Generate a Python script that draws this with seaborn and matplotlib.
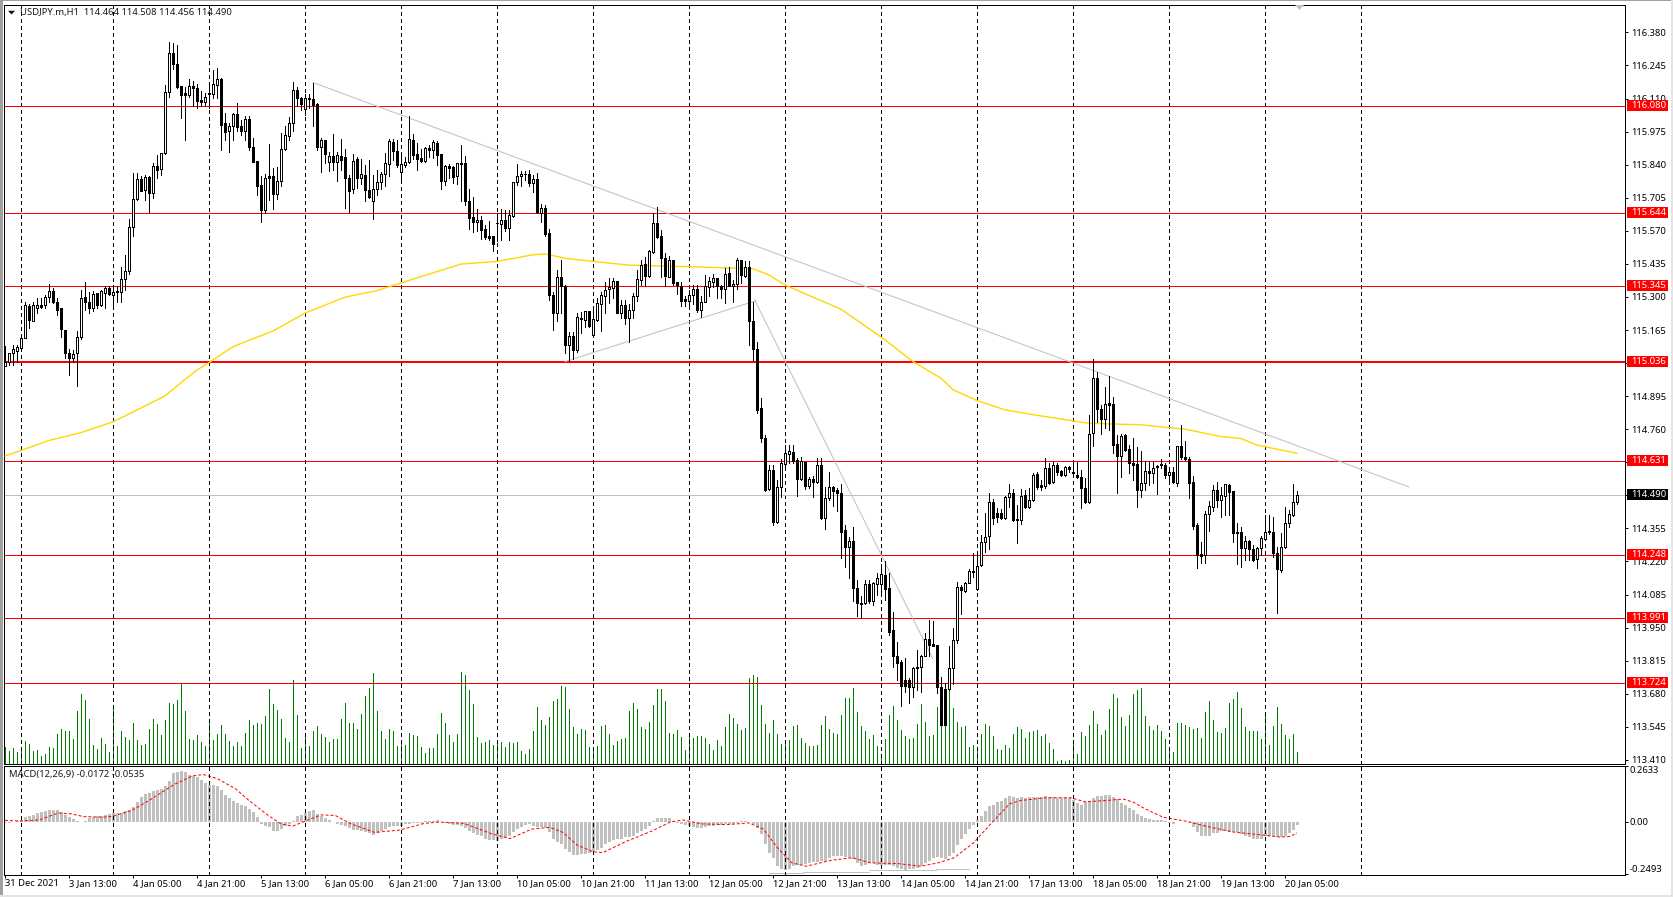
import numpy as np
import matplotlib
matplotlib.use('Agg')
import matplotlib.pyplot as plt
from matplotlib.patches import Rectangle, Polygon
import seaborn as sns

# USDJPY.m H1 candles
opens = [115.016,115.036,115.070,115.081,115.091,115.131,115.263,115.200,115.254,115.268,
115.266,115.299,115.325,115.281,115.254,115.165,115.073,115.050,115.070,115.138,
115.298,115.281,115.254,115.315,115.268,115.318,115.336,115.306,115.321,115.322,
115.372,115.404,115.585,115.699,115.781,115.737,115.789,115.726,115.835,115.822,
115.887,116.136,116.295,116.250,116.162,116.132,116.125,116.162,116.152,116.105,
116.094,116.128,116.128,116.166,116.189,116.009,115.979,115.996,116.048,115.996,
115.979,116.026,115.911,115.856,115.758,115.653,115.792,115.794,115.721,115.775,
115.903,115.959,116.012,116.146,116.111,116.067,116.110,116.107,116.087,115.914,
115.941,115.849,115.876,115.853,115.876,115.871,115.785,115.740,115.862,115.785,
115.798,115.737,115.690,115.740,115.771,115.803,115.843,115.932,115.894,115.812,
115.839,115.853,115.941,115.883,115.866,115.857,115.907,115.901,115.928,115.884,
115.775,115.835,115.830,115.792,115.846,115.846,115.692,115.626,115.604,115.615,
115.578,115.549,115.549,115.600,115.596,115.615,115.583,115.631,115.768,115.792,
115.800,115.803,115.767,115.782,115.642,115.662,115.560,115.308,115.234,115.381,
115.345,115.102,115.141,115.084,115.213,115.206,115.242,115.145,115.206,115.270,
115.302,115.332,115.338,115.366,115.236,115.266,115.213,115.247,115.304,115.370,
115.434,115.386,115.485,115.601,115.549,115.458,115.383,115.451,115.360,115.343,
115.292,115.283,115.306,115.332,115.247,115.281,115.340,115.363,115.376,115.343,
115.332,115.397,115.345,115.353,115.449,115.386,115.421,115.202,115.087,114.846,
114.723,114.515,114.594,114.383,114.523,114.618,114.659,114.666,114.635,114.556,
114.628,114.529,114.556,114.546,114.614,114.399,114.478,114.523,114.512,114.499,
114.349,114.277,114.304,114.111,114.051,114.050,114.127,114.060,114.128,114.127,
114.165,114.111,113.941,113.832,113.811,113.734,113.734,113.709,113.783,113.788,
113.834,113.902,113.883,113.879,113.706,113.698,113.698,113.784,113.900,114.115,
114.101,114.134,114.181,114.107,114.206,114.299,114.322,114.462,114.417,114.417,
114.399,114.482,114.499,114.394,114.390,114.492,114.444,114.469,114.576,114.531,
114.529,114.601,114.546,114.614,114.590,114.573,114.607,114.587,114.573,114.563,
114.519,114.461,114.744,114.968,114.843,114.802,114.866,114.862,114.700,114.651,
114.737,114.678,114.624,114.618,114.512,114.539,114.590,114.580,114.605,114.612,
114.614,114.575,114.584,114.542,114.692,114.646,114.640,114.543,114.369,114.250,
114.247,114.414,114.444,114.512,114.471,114.489,114.533,114.508,114.342,114.339,
114.274,114.304,114.270,114.229,114.274,114.312,114.346,114.339,114.256,114.185,
114.278,114.379,114.410,114.464]

highs = [115.098,115.070,115.104,115.104,115.145,115.281,115.272,115.281,115.295,115.295,
115.308,115.353,115.336,115.295,115.254,115.165,115.087,115.084,115.159,115.329,
115.360,115.322,115.326,115.315,115.329,115.343,115.343,115.343,115.343,115.424,
115.472,115.617,115.805,115.805,115.792,115.798,115.792,115.846,115.880,115.887,
116.166,116.340,116.336,116.329,116.162,116.156,116.189,116.180,116.170,116.139,
116.132,116.166,116.227,116.234,116.193,116.050,116.009,116.050,116.091,116.023,
116.037,116.037,115.948,115.856,115.792,115.803,115.925,115.826,115.832,115.969,
115.996,116.034,116.177,116.156,116.118,116.129,116.129,116.175,116.091,115.948,
115.941,115.890,115.964,115.890,115.944,115.903,115.798,115.884,115.871,115.862,
115.839,115.860,115.798,115.819,115.812,115.887,115.944,115.944,115.939,115.880,
115.873,116.037,115.966,115.928,115.903,115.914,115.921,115.941,115.935,115.884,
115.839,115.843,115.835,115.846,115.921,115.876,115.740,115.707,115.658,115.631,
115.594,115.611,115.549,115.642,115.658,115.653,115.653,115.768,115.843,115.815,
115.816,115.819,115.798,115.805,115.679,115.676,115.577,115.322,115.411,115.451,
115.349,115.155,115.155,115.234,115.240,115.244,115.242,115.261,115.295,115.322,
115.359,115.378,115.378,115.366,115.288,115.288,115.272,115.315,115.411,115.451,
115.465,115.492,115.642,115.669,115.574,115.481,115.468,115.451,115.363,115.363,
115.302,115.329,115.349,115.349,115.302,115.390,115.381,115.393,115.376,115.349,
115.417,115.424,115.370,115.458,115.451,115.445,115.445,115.281,115.118,114.887,
114.737,114.614,114.614,114.553,114.637,114.696,114.696,114.696,114.642,114.648,
114.628,114.564,114.567,114.642,114.642,114.526,114.587,114.529,114.519,114.537,
114.369,114.319,114.360,114.145,114.080,114.145,114.145,114.138,114.172,114.210,
114.220,114.172,114.015,113.893,113.818,113.825,113.743,113.791,113.859,113.838,
113.927,113.981,113.975,113.879,113.750,113.723,113.873,113.947,114.135,114.124,
114.138,114.188,114.254,114.247,114.328,114.417,114.501,114.475,114.437,114.433,
114.488,114.537,114.515,114.451,114.515,114.512,114.519,114.583,114.587,114.553,
114.642,114.621,114.628,114.624,114.594,114.610,114.610,114.624,114.628,114.594,
114.560,114.818,115.046,114.995,114.859,114.934,114.978,114.893,114.737,114.740,
114.740,114.696,114.723,114.689,114.669,114.632,114.628,114.628,114.614,114.637,
114.621,114.607,114.605,114.692,114.778,114.710,114.648,114.569,114.376,114.301,
114.424,114.465,114.533,114.546,114.526,114.537,114.535,114.508,114.379,114.360,
114.322,114.308,114.288,114.281,114.322,114.410,114.410,114.403,114.281,114.335,
114.441,114.431,114.537,114.508]

lows = [115.016,115.023,115.023,115.036,115.084,115.131,115.172,115.200,115.236,115.254,
115.254,115.281,115.277,115.227,115.138,115.050,114.982,115.036,114.938,115.127,
115.247,115.234,115.244,115.254,115.261,115.254,115.308,115.261,115.281,115.281,
115.329,115.394,115.547,115.696,115.734,115.694,115.645,115.703,115.785,115.798,
115.884,116.118,116.230,116.152,116.030,115.941,116.118,116.080,116.071,116.080,
116.080,116.071,116.111,116.111,115.898,115.941,115.890,115.941,115.979,115.962,
115.941,115.901,115.850,115.717,115.608,115.642,115.696,115.658,115.699,115.754,
115.898,115.939,115.979,116.080,116.064,116.043,116.071,115.996,115.898,115.812,
115.846,115.816,115.819,115.775,115.819,115.662,115.645,115.724,115.744,115.762,
115.690,115.703,115.617,115.717,115.740,115.754,115.792,115.860,115.832,115.778,
115.832,115.846,115.862,115.819,115.849,115.849,115.873,115.866,115.839,115.741,
115.758,115.785,115.764,115.762,115.690,115.676,115.578,115.564,115.571,115.537,
115.537,115.533,115.489,115.530,115.533,115.571,115.533,115.628,115.758,115.755,
115.778,115.751,115.730,115.642,115.608,115.549,115.288,115.166,115.200,115.234,
115.073,115.039,115.046,115.077,115.152,115.179,115.179,115.138,115.200,115.161,
115.236,115.274,115.295,115.234,115.213,115.190,115.114,115.213,115.285,115.349,
115.345,115.383,115.481,115.540,115.381,115.345,115.381,115.349,115.313,115.264,
115.264,115.261,115.272,115.240,115.220,115.281,115.302,115.340,115.295,115.295,
115.277,115.343,115.281,115.332,115.356,115.383,115.104,115.043,114.825,114.706,
114.509,114.512,114.369,114.376,114.485,114.594,114.621,114.624,114.488,114.553,
114.515,114.519,114.485,114.539,114.392,114.352,114.471,114.447,114.424,114.233,
114.199,114.152,114.060,113.998,113.991,114.047,114.050,114.043,114.084,114.084,
114.063,113.920,113.791,113.736,113.628,113.689,113.641,113.668,113.695,113.689,
113.832,113.832,113.873,113.682,113.553,113.553,113.695,113.720,113.889,114.006,
114.097,114.131,114.158,114.104,114.203,114.260,114.270,114.373,114.383,114.392,
114.392,114.444,114.387,114.297,114.373,114.437,114.437,114.465,114.515,114.512,
114.519,114.537,114.539,114.573,114.567,114.569,114.587,114.573,114.560,114.440,
114.458,114.458,114.692,114.791,114.741,114.764,114.757,114.662,114.501,114.564,
114.673,114.583,114.553,114.444,114.485,114.512,114.533,114.542,114.496,114.601,
114.560,114.546,114.542,114.529,114.637,114.635,114.481,114.353,114.195,114.215,
114.215,114.346,114.424,114.444,114.403,114.410,114.410,114.301,114.210,114.199,
114.226,114.226,114.220,114.195,114.247,114.308,114.333,114.240,114.011,114.175,
114.274,114.362,114.407,114.456]

closes = [115.036,115.070,115.087,115.095,115.131,115.268,115.204,115.268,115.268,115.258,
115.299,115.325,115.278,115.247,115.168,115.070,115.050,115.066,115.138,115.295,
115.281,115.254,115.313,115.268,115.325,115.336,115.313,115.322,115.323,115.372,
115.406,115.587,115.699,115.781,115.734,115.789,115.726,115.835,115.819,115.887,
116.136,116.295,116.250,116.156,116.125,116.125,116.162,116.152,116.102,116.094,
116.118,116.131,116.170,116.189,116.003,115.975,115.999,116.048,115.993,115.979,
116.026,115.911,115.853,115.754,115.653,115.785,115.785,115.720,115.775,115.903,
115.962,116.012,116.143,116.111,116.086,116.111,116.113,116.084,115.914,115.941,
115.884,115.876,115.853,115.880,115.860,115.785,115.734,115.857,115.785,115.803,
115.737,115.707,115.740,115.771,115.803,115.846,115.937,115.894,115.837,115.843,
115.853,115.944,115.880,115.862,115.856,115.907,115.898,115.932,115.880,115.775,
115.835,115.827,115.789,115.846,115.843,115.690,115.624,115.604,115.615,115.574,
115.544,115.541,115.517,115.602,115.615,115.583,115.635,115.768,115.794,115.803,
115.803,115.767,115.782,115.645,115.662,115.558,115.308,115.236,115.381,115.345,
115.102,115.141,115.084,115.217,115.209,115.242,115.182,115.209,115.274,115.306,
115.328,115.341,115.366,115.236,115.266,115.213,115.247,115.304,115.372,115.431,
115.386,115.488,115.601,115.544,115.458,115.386,115.449,115.356,115.347,115.285,
115.285,115.306,115.332,115.247,115.281,115.343,115.366,115.376,115.343,115.332,
115.393,115.345,115.353,115.449,115.390,115.424,115.200,115.087,114.839,114.723,
114.512,114.594,114.383,114.523,114.621,114.662,114.670,114.632,114.556,114.632,
114.529,114.556,114.546,114.614,114.396,114.478,114.526,114.509,114.499,114.342,
114.277,114.304,114.111,114.050,114.048,114.127,114.060,114.131,114.152,114.168,
114.108,113.930,113.832,113.807,113.713,113.713,113.709,113.784,113.788,113.834,
113.902,113.879,113.875,113.706,113.553,113.553,113.784,113.900,114.115,114.104,
114.131,114.181,114.175,114.203,114.299,114.319,114.462,114.399,114.401,114.396,
114.482,114.499,114.390,114.388,114.489,114.444,114.471,114.573,114.526,114.526,
114.601,114.542,114.614,114.584,114.573,114.607,114.599,114.580,114.563,114.519,
114.461,114.740,114.968,114.843,114.802,114.862,114.859,114.696,114.651,114.733,
114.676,114.621,114.614,114.512,114.539,114.590,114.580,114.601,114.610,114.617,
114.575,114.584,114.546,114.692,114.646,114.640,114.542,114.365,114.247,114.244,
114.414,114.447,114.512,114.471,114.492,114.535,114.505,114.338,114.335,114.274,
114.304,114.270,114.226,114.274,114.315,114.342,114.339,114.256,114.188,114.278,
114.379,114.413,114.462,114.490]

# tick volume, in the chart's unlabeled scale
volumes = [52,38,48,37,52,70,60,40,42,25,30,52,49,90,106,100,100,76,160,211,
193,136,58,44,79,61,37,168,55,100,82,73,124,73,58,61,106,136,121,88,
133,184,181,193,244,160,76,73,88,67,55,136,73,91,118,91,70,55,67,55,
94,133,118,124,121,145,226,181,163,136,79,67,253,148,49,91,55,100,115,91,
82,67,76,76,136,184,124,124,106,151,205,229,274,160,100,76,106,100,55,70,
58,94,88,85,52,34,49,49,91,154,124,88,67,91,277,268,223,181,82,64,
67,73,58,64,67,52,67,64,67,40,31,46,100,172,133,118,142,190,196,235,
232,166,112,91,106,103,52,50,55,115,118,91,58,70,76,78,160,184,166,112,
106,127,178,226,226,190,94,91,103,82,43,82,79,85,85,79,61,43,73,55,
112,151,139,121,103,109,259,268,262,178,121,94,133,91,61,70,73,115,118,79,
64,55,55,58,118,145,106,94,91,148,199,199,229,157,115,100,76,88,55,28,
76,148,175,133,103,85,76,79,121,181,127,85,88,172,229,221,292,169,127,112,
115,52,58,50,91,121,115,85,46,43,58,49,91,112,106,79,97,100,103,85,
91,64,46,10,13,10,13,64,31,97,85,118,160,121,88,103,166,211,199,142,
115,148,211,223,229,145,115,103,118,100,76,45,37,124,124,118,112,106,109,79,
157,190,133,97,94,109,184,196,217,169,112,100,100,100,76,154,58,115,172,121,
88,76,91,37]

macd_hist = [-0.008,-0.005,-0.002,0.002,0.008,0.021,0.027,0.033,0.040,0.045,
0.049,0.053,0.053,0.053,0.045,0.033,0.021,0.011,0.005,-0.002,
0.005,0.018,0.021,0.026,0.029,0.033,0.037,0.041,0.043,0.043,
0.048,0.053,0.069,0.093,0.116,0.129,0.137,0.144,0.148,0.156,
0.167,0.193,0.228,0.236,0.238,0.233,0.223,0.215,0.209,0.196,
0.183,0.175,0.172,0.167,0.148,0.124,0.113,0.100,0.088,0.080,
0.073,0.061,0.045,0.021,-0.011,-0.022,-0.027,-0.043,-0.043,-0.037,
-0.022,-0.011,0.002,0.026,0.033,0.043,0.048,0.053,0.037,0.029,
0.018,0.008,-0.003,-0.011,-0.014,-0.022,-0.032,-0.038,-0.040,-0.043,
-0.049,-0.054,-0.061,-0.056,-0.043,-0.035,-0.027,-0.022,-0.022,-0.021,
-0.011,-0.010,-0.008,-0.006,-0.005,0.001,0.005,0.005,0.006,-0.001,
-0.006,-0.010,-0.014,-0.018,-0.019,-0.032,-0.043,-0.056,-0.064,-0.070,
-0.080,-0.085,-0.089,-0.091,-0.083,-0.077,-0.067,-0.049,-0.033,-0.024,
-0.014,-0.011,-0.019,-0.024,-0.027,-0.032,-0.051,-0.083,-0.094,-0.104,
-0.131,-0.144,-0.158,-0.158,-0.155,-0.152,-0.147,-0.139,-0.132,-0.123,
-0.107,-0.096,-0.085,-0.080,-0.080,-0.075,-0.072,-0.067,-0.054,-0.043,
-0.035,-0.022,0.003,0.019,0.019,0.016,0.019,0.005,-0.005,-0.011,
-0.016,-0.022,-0.026,-0.030,-0.030,-0.026,-0.022,-0.019,-0.016,-0.014,
-0.011,-0.013,-0.011,-0.008,0.001,0.005,-0.002,-0.011,-0.032,-0.059,
-0.107,-0.150,-0.174,-0.211,-0.222,-0.230,-0.225,-0.211,-0.206,-0.203,
-0.199,-0.195,-0.193,-0.190,-0.187,-0.187,-0.171,-0.164,-0.163,-0.163,
-0.167,-0.171,-0.179,-0.195,-0.209,-0.207,-0.198,-0.198,-0.203,-0.203,
-0.206,-0.206,-0.211,-0.219,-0.226,-0.231,-0.226,-0.222,-0.219,-0.212,
-0.198,-0.187,-0.171,-0.167,-0.171,-0.179,-0.163,-0.147,-0.110,-0.080,
-0.059,-0.035,-0.014,0.008,0.029,0.049,0.073,0.080,0.093,0.100,
0.113,0.121,0.116,0.112,0.115,0.113,0.115,0.116,0.116,0.118,
0.120,0.116,0.115,0.113,0.113,0.112,0.112,0.104,0.088,0.081,
0.093,0.100,0.112,0.120,0.120,0.124,0.124,0.116,0.108,0.089,
0.081,0.065,0.057,0.037,0.026,0.018,0.013,0.010,0.010,0.006,
0.005,-0.005,-0.010,-0.003,-0.003,-0.003,-0.005,-0.024,-0.049,-0.067,
-0.067,-0.067,-0.056,-0.053,-0.046,-0.043,-0.049,-0.049,-0.049,-0.059,
-0.067,-0.075,-0.080,-0.080,-0.080,-0.070,-0.067,-0.070,-0.072,-0.075,
-0.067,-0.054,-0.038,-0.017]

signal_bar = [0,4,8.5,13.4,16.5,19.6,24.5,27,31.7,36,42.4,47,49.6,53,57.6,61,65.6,69,71.9,75.4,
79,82.6,86.6,92.4,98.6,104.9,108.5,114.7,121.9,126.3,131.7,136.2,139.5,143.1,147,149.4,155.6,161.9,
166.3,169.5,174.4,180.6,186,189.6,193.1,196.7,200.3,206.5,211.9,216.3,223.5,228.9,233.3,237.3,242.2,
246.8,251.2,253.9,260.2,266.4,270,275.3,279.5,282,285,289.5,295.3,300.3,307,313.7,318.7,321.2,323]
signal_val = [0.006,0.003,0.008,0.041,0.037,0.024,0.021,0.026,0.053,0.100,0.177,0.217,0.223,0.204,0.156,0.100,0.032,-0.011,-0.021,0.005,
0.032,0.029,-0.011,-0.051,-0.040,-0.008,-0.002,-0.008,-0.059,-0.080,-0.035,-0.027,-0.051,-0.112,-0.142,-0.147,-0.091,-0.043,
-0.002,0.008,-0.011,-0.014,-0.006,-0.035,-0.123,-0.195,-0.211,-0.183,-0.171,-0.195,-0.199,-0.211,-0.195,-0.171,-0.099,
-0.003,0.085,0.100,0.113,0.113,0.094,0.100,0.107,0.093,0.061,0.021,0.002,-0.022,-0.049,-0.062,-0.073,-0.070,-0.0535]

ma_bar = [0,4,11,19,27,34,40,44,48,51,57,67,75,85,93,104,114,123,132,135,140,147,156,170,180,187,191,195,200,209,
220,227,234,237,243,250,259,267,271,284,295,304,309,313,323]
ma_val = [114.651,114.673,114.714,114.746,114.790,114.847,114.896,114.950,115.002,115.032,115.097,115.161,115.234,115.299,115.326,
115.383,115.434,115.445,115.472,115.476,115.458,115.445,115.430,115.424,115.419,115.415,115.390,115.349,115.313,115.250,
115.125,115.036,114.968,114.921,114.877,114.839,114.814,114.794,114.784,114.778,114.760,114.730,114.722,114.695,114.662]

levels = [116.080, 115.644, 115.345, 115.036, 114.631, 114.248, 113.991, 113.724]
last_price = 114.490
price_ticks = [116.380,116.245,116.110,115.975,115.840,115.705,115.570,115.435,115.300,115.165,115.030,114.895,
               114.760,114.625,114.490,114.355,114.220,114.085,113.950,113.815,113.680,113.545,113.410]
day_bars = [4,27,51,75,99,123,147,171,195,219,243,267,291,315,339]
time_bars = [0,16,32,48,64,80,96,112,128,144,160,176,192,208,224,240,256,272,288,304,320]
time_labels = ['31 Dec 2021','3 Jan 13:00','4 Jan 05:00','4 Jan 21:00','5 Jan 13:00','6 Jan 05:00','6 Jan 21:00',
               '7 Jan 13:00','10 Jan 05:00','10 Jan 21:00','11 Jan 13:00','12 Jan 05:00','12 Jan 21:00','13 Jan 13:00',
               '14 Jan 05:00','14 Jan 21:00','17 Jan 13:00','18 Jan 05:00','18 Jan 21:00','19 Jan 13:00','20 Jan 05:00']
# trend objects drawn on the chart: bar, price, bar, price
trendlines = [(76.9,116.176,351,114.524),(140,115.036,187.8,115.285),(187.4,115.288,231.9,113.825)]
macd_segments = [(190.9,-0.241,199.4),(199.4,-0.236,215.9),(215.9,-0.231,232.7),(232.7,-0.226,240.9)]

W, H = 1673, 897
sns.set_theme(style='white')
plt.rcParams['font.family'] = ['Noto Sans', 'DejaVu Sans']
plt.rcParams['axes.linewidth'] = 0.72
PX = 0.72
FS = 6.8
GREY = '#c0c0c0'
RED = '#ff0000'

def pane(x0, y0, x1, y1, **kw):
    return fig.add_axes([x0 / W, 1 - y1 / H, (x1 - x0) / W, (y1 - y0) / H], **kw)

fig = plt.figure(figsize=(W / 100, H / 100), dpi=100, facecolor='white')
L, R = 4, 1625
ax_vol = pane(L, 5, R, 764, zorder=0)
ax = pane(L, 5, R, 764, zorder=1, facecolor='none')
ax_macd = pane(L, 766, R, 875, zorder=1)
x = np.arange(len(closes))
xlim = (-0.25, 405)

# volume sits on its own hidden axis under the candles
sns.barplot(x=x, y=volumes, native_scale=True, color='#008000', saturation=1, width=0.25, linewidth=0, ax=ax_vol)
ax_vol.set_ylim(0, 2277)
ax_vol.set_xlim(*xlim)
ax_vol.axis('off')

# candles
for d in day_bars:
    ax.axvline(d, color='black', lw=PX, ls=(0, (3, 3)), zorder=1, antialiased=False)
    ax_macd.axvline(d, color='black', lw=PX, ls=(0, (3, 3)), zorder=3, antialiased=False)
for lv in levels:
    ax.axhline(lv, color=RED, lw=1.44 if lv == 115.036 else PX, zorder=2, antialiased=False)
ax.axhline(last_price, color=GREY, lw=PX, zorder=1.5, antialiased=False)
for x0, y0, x1, y1 in trendlines:
    ax.plot([x0, x1], [y0, y1], color=GREY, lw=PX, zorder=2.5)
sns.lineplot(x=ma_bar, y=ma_val, color='#ffd700', lw=1.0, zorder=3, ax=ax)

o, h, l, c = map(np.array, (opens, highs, lows, closes))
ax.vlines(x, l, h, color='black', lw=PX, zorder=4, antialiased=False)
up = c >= o
ax.bar(x[up], (c - o)[up], bottom=o[up], width=0.5, color='white', edgecolor='black', lw=PX, zorder=5, antialiased=False)
ax.bar(x[~up], (o - c)[~up], bottom=c[~up], width=0.5, color='black', edgecolor='black', lw=PX, zorder=5, antialiased=False)

ax.set_xlim(*xlim)
ax.set_ylim(113.393, 116.492)
ax.set_yticks(price_ticks, ['%.3f' % t for t in price_ticks])
ax.yaxis.tick_right()
ax.tick_params(axis='y', which='major', right=True, length=2.2, width=PX, pad=2.6, labelsize=FS, colors='black')
ax.set_xticks([])

# red price tags on the right edge
tag_w = 41 / (R - L)
tag_h = 11 / 244.9
trans = ax.get_yaxis_transform()
for lv in levels:
    ax.add_patch(Rectangle((1 + 2 / (R - L), lv - tag_h / 2 + 0.002), tag_w, tag_h, transform=trans, color=RED, lw=0, clip_on=False, zorder=6))
    ax.text(1 + 6.7 / (R - L), lv + 0.002, '%.3f' % lv, transform=trans, color='white', fontsize=FS, va='center', zorder=7, clip_on=False)
ax.add_patch(Rectangle((1 + 2 / (R - L), last_price - tag_h / 2 + 0.002), tag_w, tag_h, transform=trans, color='black', lw=0, clip_on=False, zorder=6))
ax.text(1 + 6.7 / (R - L), last_price + 0.002, '%.3f' % last_price, transform=trans, color='white', fontsize=FS, va='center', zorder=7, clip_on=False)

# MACD pane
sns.barplot(x=x, y=macd_hist, native_scale=True, color=GREY, saturation=1, width=0.75, linewidth=0, zorder=1, ax=ax_macd)
sns.lineplot(x=signal_bar, y=signal_val, color=RED, lw=PX, linestyle=(0, (3, 2)), zorder=2, ax=ax_macd)
for x0, y0, x1 in macd_segments:
    ax_macd.plot([x0, x1], [y0, y0], color=GREY, lw=PX, zorder=2)
ax_macd.set_xlim(*xlim)
ax_macd.set_ylim(-0.2525, 0.2633)
ax_macd.set_yticks([0.2633, 0.0, -0.2493], ['0.2633', '0.00', '-0.2493'])
ax_macd.yaxis.tick_right()
ax_macd.tick_params(axis='y', right=True, length=2.2, width=PX, pad=0.9, labelsize=FS, colors='black')
ax_macd.get_yticklabels()[0].set_verticalalignment('top')
ax_macd.get_yticklabels()[2].set_verticalalignment('bottom')
ax_macd.set_xticks(time_bars, time_labels)
ax_macd.tick_params(axis='x', bottom=True, length=2.2, width=PX, pad=1, labelsize=FS, colors='black')
for lab in ax_macd.get_xticklabels():
    lab.set_horizontalalignment('left')

for a in (ax, ax_macd):
    for s in a.spines.values():
        s.set_color('black')
        s.set_linewidth(PX)
        s.set_visible(True)

# header texts and the small window marks
fig.text(20 / W, 1 - 12.6 / H, 'USDJPY.m,H1  114.464 114.508 114.456 114.490', fontsize=FS, color='#1a1a1a', va='center')
fig.text(9 / W, 1 - 774.7 / H, 'MACD(12,26,9) -0.0172 -0.0535', fontsize=FS, color='#1a1a1a', va='center')
fig.add_artist(Polygon([[8 / W, 1 - 10.8 / H], [15 / W, 1 - 10.8 / H], [11.5 / W, 1 - 14.5 / H]], color='#111111', lw=0))
fig.add_artist(Polygon([[1295 / W, 1 - 5 / H], [1304 / W, 1 - 5 / H], [1299.5 / W, 1 - 10 / H]], color=GREY, lw=0, zorder=5))

# window frame around the screenshot
fig.add_artist(Rectangle((0, 1 - 1.5 / H), 1, 1.5 / H, color='#a0a0a0', lw=0))
fig.add_artist(Rectangle((0, 0), 2.5 / W, 1, color='#a0a0a0', lw=0))
fig.add_artist(Rectangle((1 - 2 / W, 0), 2 / W, 1, color='#e4e4e4', lw=0))
fig.add_artist(Rectangle((0, 0), 1, 2 / H, color='#e4e4e4', lw=0))

fig.savefig('out.png', dpi=100)
